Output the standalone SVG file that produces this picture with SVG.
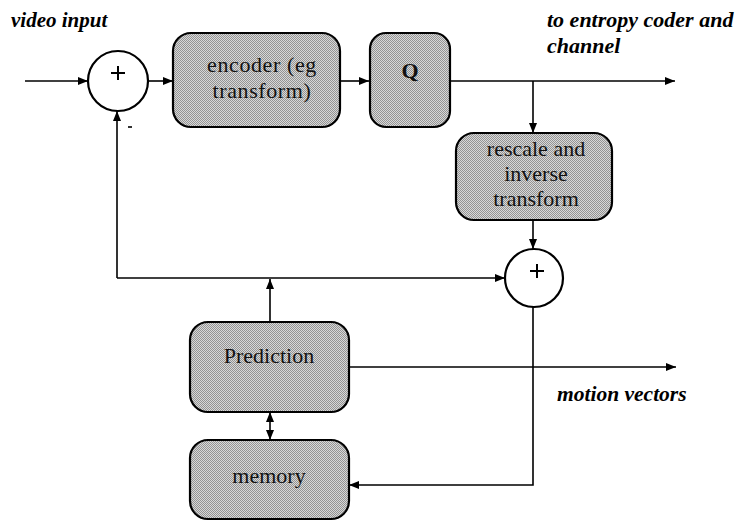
<svg xmlns="http://www.w3.org/2000/svg" width="736" height="522" viewBox="0 0 736 522">
<defs>
<pattern id="stip" width="2" height="2" patternUnits="userSpaceOnUse">
<rect width="2" height="2" fill="#d8d8d8"/>
<rect width="1" height="1" fill="#939393"/>
<rect x="1" y="1" width="1" height="1" fill="#939393"/>
</pattern>
<marker id="ah" viewBox="0 0 10 10" refX="10" refY="5" markerWidth="10" markerHeight="10" markerUnits="userSpaceOnUse" orient="auto-start-reverse">
<path d="M0,1 L10,5 L0,9 z" fill="#000"/>
</marker>
</defs>
<style>
.box{fill:url(#stip);stroke:#000;stroke-width:2.2}
.sum{fill:#fff;stroke:#000;stroke-width:2.2}
.ln{fill:none;stroke:#000;stroke-width:1.6}
.plus{stroke:#000;stroke-width:2;fill:none}
</style>

<g id="connectors">
<line class="ln" x1="25" y1="81" x2="88" y2="81" marker-end="url(#ah)"/>
<line class="ln" x1="148" y1="81" x2="173" y2="81" marker-end="url(#ah)"/>
<line class="ln" x1="340" y1="81" x2="369" y2="81" marker-end="url(#ah)"/>
<line class="ln" x1="450" y1="81" x2="675" y2="81" marker-end="url(#ah)"/>
<line class="ln" x1="533" y1="81" x2="533" y2="133" marker-end="url(#ah)"/>
<line class="ln" x1="533" y1="220" x2="533" y2="249" marker-end="url(#ah)"/>
<line class="ln" x1="117" y1="278" x2="505" y2="278" marker-end="url(#ah)"/>
<line class="ln" x1="117" y1="278" x2="117" y2="111" marker-end="url(#ah)"/>
<line class="ln" x1="270" y1="322" x2="270" y2="279" marker-end="url(#ah)"/>
<line class="ln" x1="270" y1="412" x2="270" y2="440" marker-start="url(#ah)" marker-end="url(#ah)"/>
<line class="ln" x1="349" y1="367" x2="676" y2="367" marker-end="url(#ah)"/>
<polyline class="ln" points="533,307 533,485 349,485" marker-end="url(#ah)"/>
</g>

<g id="sum1">
<circle class="sum" cx="118" cy="81" r="30"/>
<path class="plus" d="M111,73 H125 M118,66 V80"/>
<line x1="128" y1="127" x2="132" y2="127" stroke="#000" stroke-width="1.6"/>
</g>

<g id="encoder">
<rect class="box" x="173" y="33" width="167" height="94" rx="18"/>
<text font-family="Liberation Serif, serif" font-size="22" fill="#111" text-anchor="middle" x="262" y="72" letter-spacing="0.6">encoder (eg</text>
<text font-family="Liberation Serif, serif" font-size="22" fill="#111" text-anchor="middle" x="262" y="98" letter-spacing="0.6">transform)</text>
</g>

<g id="quantizer">
<rect class="box" x="370" y="33" width="80" height="94" rx="16"/>
<text font-family="Liberation Serif, serif" font-size="22" fill="#111" text-anchor="middle" x="410" y="78" font-weight="bold">Q</text>
</g>

<g id="rescale">
<rect class="box" x="456" y="133" width="156" height="87" rx="18"/>
<text font-family="Liberation Serif, serif" font-size="22" fill="#111" text-anchor="middle" x="536" y="156">rescale and</text>
<text font-family="Liberation Serif, serif" font-size="22" fill="#111" text-anchor="middle" x="536" y="181">inverse</text>
<text font-family="Liberation Serif, serif" font-size="22" fill="#111" text-anchor="middle" x="536" y="206">transform</text>
</g>

<g id="sum2">
<circle class="sum" cx="534" cy="278" r="29"/>
<path class="plus" d="M530,271 H544 M537,264 V278"/>
</g>

<g id="prediction">
<rect class="box" x="190" y="322" width="159" height="90" rx="18"/>
<text font-family="Liberation Serif, serif" font-size="22" fill="#111" text-anchor="middle" x="269" y="363">Prediction</text>
</g>

<g id="memory">
<rect class="box" x="190" y="440" width="159" height="79" rx="18"/>
<text font-family="Liberation Serif, serif" font-size="22" fill="#111" text-anchor="middle" x="269" y="483">memory</text>
</g>

<g id="labels">
<text font-family="Liberation Serif, serif" font-size="21" font-style="italic" font-weight="bold" x="11" y="27">video input</text>
<text font-family="Liberation Serif, serif" font-size="22" font-style="italic" font-weight="bold" x="547" y="27">to entropy coder and</text>
<text font-family="Liberation Serif, serif" font-size="22" font-style="italic" font-weight="bold" x="547" y="53">channel</text>
<text font-family="Liberation Serif, serif" font-size="21.5" font-style="italic" font-weight="bold" x="557" y="401">motion vectors</text>
</g>
</svg>
